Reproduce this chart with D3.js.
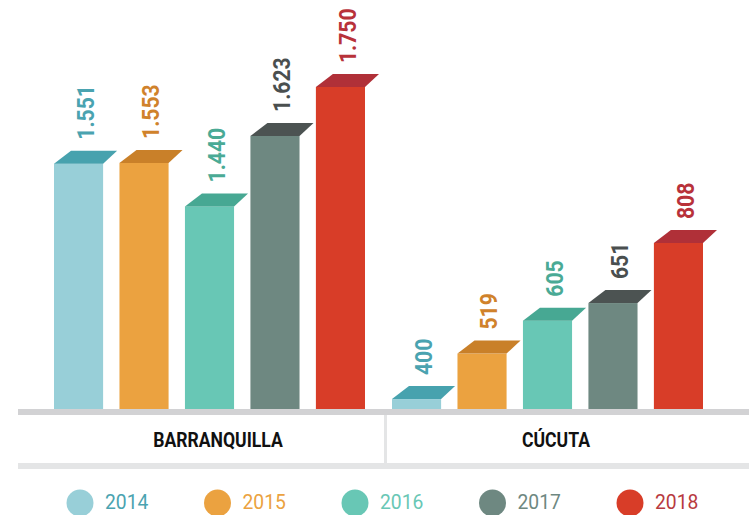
<!DOCTYPE html>
<html>
<head>
	<meta charset="UTF-8" />
	<title>barras ciudades</title>
	<script src="https://d3js.org/d3.v7.min.js"></script>
	<style>
		body { margin: 0; background: #fff; }
	</style>
</head>
<body>
	<svg id="chart" width="749" height="515"></svg>

	<script type="text/javascript">
	// data
	const cities = ["BARRANQUILLA", "CÚCUTA"]
	const years = ["2014", "2015", "2016", "2017", "2018"]
	const barranquilla = [1551, 1553, 1440, 1623, 1750]
	const cucuta = [400, 519, 605, 651, 808]
	const valueLabels = {
		"BARRANQUILLA": ["1.551", "1.553", "1.440", "1.623", "1.750"],
		"CÚCUTA": ["400", "519", "605", "651", "808"]
	}

	// colors per year: front, top face, label text
	const front = ["#98cfd8", "#eba240", "#68c7b5", "#6e8881", "#d83d28"]
	const topFace = ["#47a2ae", "#c98029", "#47a893", "#4c5352", "#b03038"]
	const labelColor = ["#4aa3b0", "#d0822b", "#4aaa95", "#4a4f4f", "#b8323a"]
	const legendText = ["#4aa3b0", "#eba240", "#68c7b5", "#6e8881", "#b83a40"]

	const rows = cities.map((c, i) => ({
		city: c,
		values: (i == 0 ? barranquilla : cucuta).map((v, j) => ({year: years[j], value: v, label: valueLabels[c][j], idx: j}))
	}))

	const svg = d3.select("#chart")
	const baseY = 409

	// scales
	const x0 = d3.scaleBand().domain(cities).range([54, 730]).padding(0)
	const x1 = d3.scaleBand().domain(years).range([0, 311]).paddingInner(0.25).paddingOuter(0)
	// each city panel has its own vertical scale
	const yScale = {
		"BARRANQUILLA": d3.scaleLinear().domain([914, 1750]).range([baseY, 87]),
		"CÚCUTA": d3.scaleLinear().domain([374, 808]).range([baseY, 243])
	}
	const color = d3.scaleOrdinal().domain(years).range(front)

	const dx = 17, dxR = 14, dy = 13

	// bars
	const groups = svg.selectAll("g.city").data(rows).enter().append("g")
		.attr("class", "city")
		.attr("transform", d => `translate(${x0(d.city)},0)`)

	groups.each(function(row) {
		const g = d3.select(this)
		const y = yScale[row.city]
		const bw = x1.bandwidth()

		const bar = g.selectAll("g.bar").data(row.values).enter().append("g").attr("class", "bar")

		bar.append("rect")
			.attr("x", d => x1(d.year))
			.attr("y", d => y(d.value))
			.attr("width", bw)
			.attr("height", d => baseY - y(d.value))
			.style("fill", d => color(d.year))

		bar.append("path")
			.attr("d", d => {
				const l = x1(d.year), t = y(d.value)
				return `M${l},${t}L${l + dx},${t - dy}L${l + bw + dxR},${t - dy}L${l + bw},${t}Z`
			})
			.style("fill", d => topFace[d.idx])

		bar.append("text")
			.attr("transform", d => `translate(${x1(d.year) + 40},${y(d.value) - dy - 11}) rotate(-90) scale(0.88,1)`)
			.attr("text-anchor", "start")
			.style("font-family", "Roboto, 'Liberation Sans', sans-serif")
			.style("font-weight", "700")
			.style("font-size", "24px")
			.style("fill", d => labelColor[d.idx])
			.text(d => d.label)
	})

	// axis bands
	svg.append("rect").attr("x", 18).attr("y", baseY).attr("width", 731).attr("height", 6).style("fill", "#d2d2d4")
	svg.append("rect").attr("x", 18).attr("y", 463).attr("width", 731).attr("height", 6).style("fill", "#e4e5e6")
	svg.append("rect").attr("x", x0(cities[1]) - 8).attr("y", baseY + 6).attr("width", 3).attr("height", 48).style("fill", "#e4e5e6")

	// city names
	svg.selectAll("text.city").data(cities).enter().append("text")
		.attr("class", "city")
		.attr("transform", d => `translate(${x0(d) + (x1.range()[1] + dx) / 2},447) scale(0.88,1)`)
		.attr("text-anchor", "middle")
		.style("font-family", "Roboto, 'Liberation Sans', sans-serif")
		.style("font-weight", "700")
		.style("font-size", "20px")
		.style("fill", "#111")
		.text(d => d)

	// legend
	const legendX = d3.scalePoint().domain(years).range([80, 630])
	const legend = svg.selectAll("g.legend").data(years).enter().append("g")
		.attr("class", "legend")
		.attr("transform", d => `translate(${legendX(d)},503)`)
	legend.append("circle").attr("r", 13.5).style("fill", d => color(d))
	legend.append("text")
		.attr("transform", "translate(25,6) scale(0.92,1)")
		.style("font-family", "Roboto, 'Liberation Sans', sans-serif")
		.style("font-weight", "400")
		.style("font-size", "21px")
		.style("fill", (d, i) => legendText[i])
		.text(d => d)
	</script>
</body>
</html>
